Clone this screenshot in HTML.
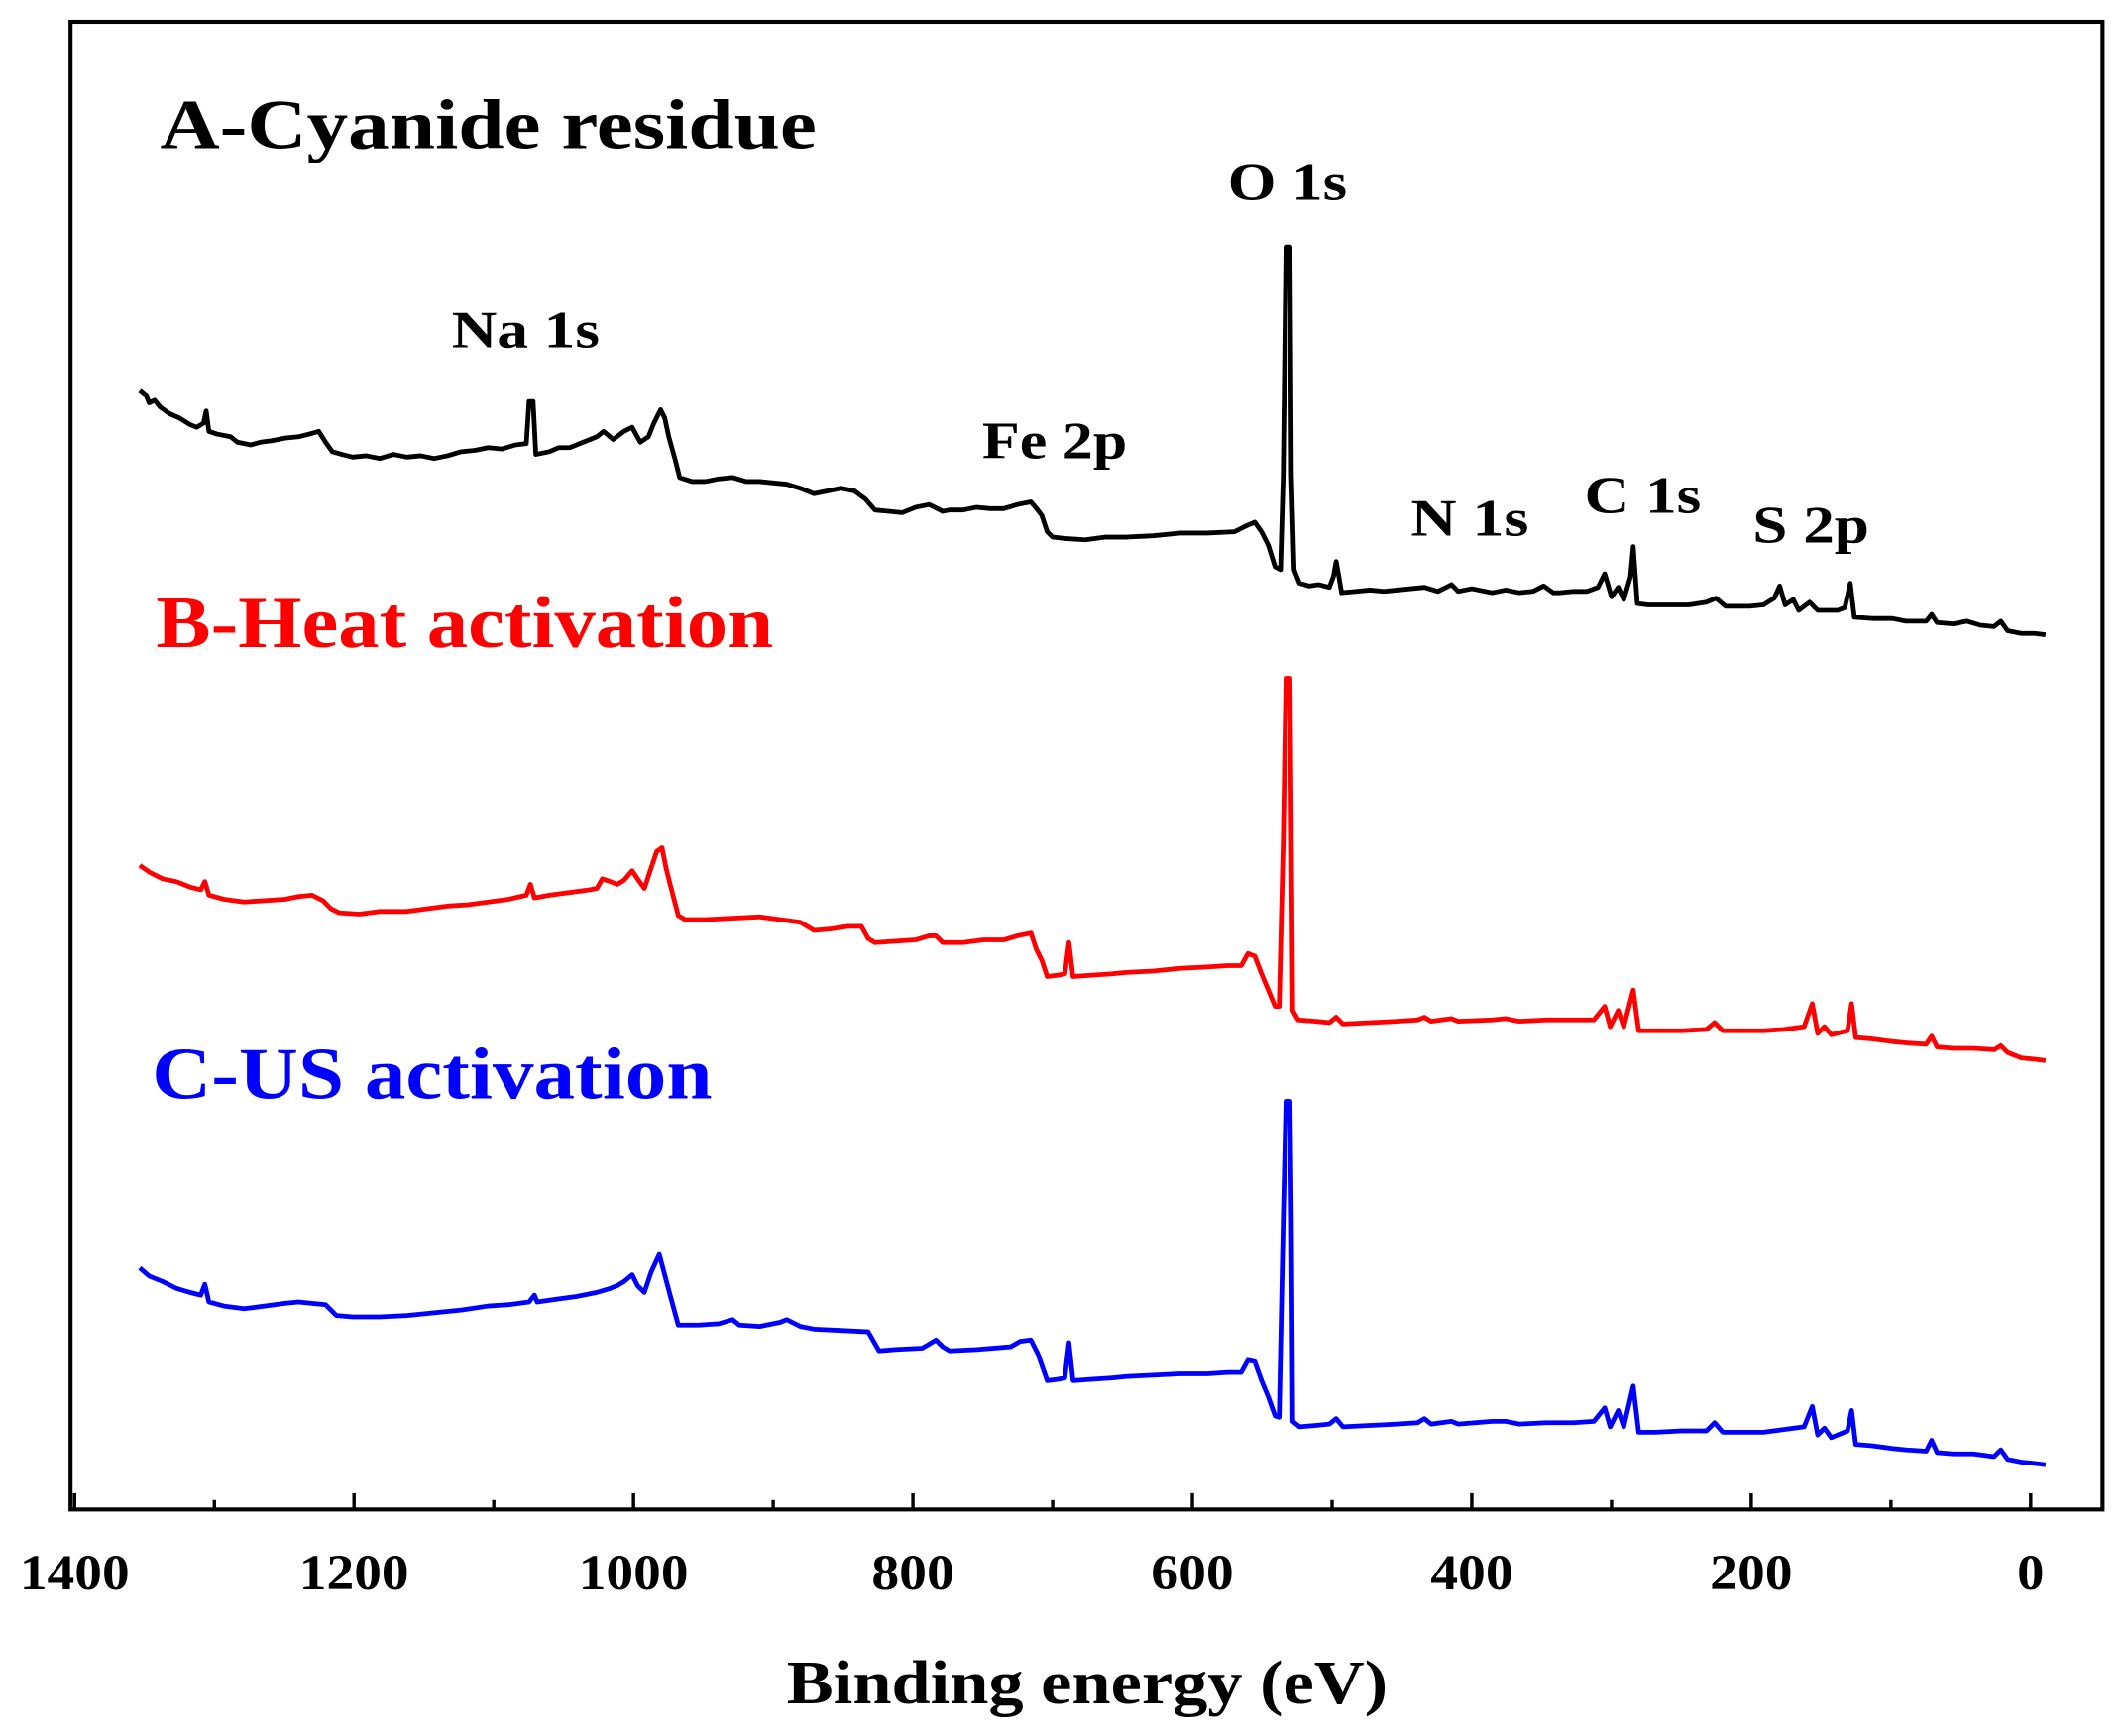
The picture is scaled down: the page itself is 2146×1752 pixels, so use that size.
<!DOCTYPE html>
<html><head><meta charset="utf-8"><style>html,body{margin:0;padding:0;background:#fff}svg{display:block}</style></head>
<body>
<svg width="2146" height="1752" viewBox="0 0 1568 1280" xmlns="http://www.w3.org/2000/svg" font-family="'Liberation Serif',serif" font-weight="bold">
<rect x="0" y="0" width="1568" height="1280" fill="#fff"/>
<rect x="52" y="16" width="1498" height="1097" fill="none" stroke="#000" stroke-width="3"/>
<g stroke="#000" stroke-width="2.5">
<line x1="55" y1="1113" x2="55" y2="1101"/><line x1="261" y1="1113" x2="261" y2="1101"/><line x1="467" y1="1113" x2="467" y2="1101"/><line x1="673" y1="1113" x2="673" y2="1101"/><line x1="879" y1="1113" x2="879" y2="1101"/><line x1="1085" y1="1113" x2="1085" y2="1101"/><line x1="1291" y1="1113" x2="1291" y2="1101"/><line x1="1497" y1="1113" x2="1497" y2="1101"/>
<line x1="158" y1="1113" x2="158" y2="1106"/><line x1="364" y1="1113" x2="364" y2="1106"/><line x1="570" y1="1113" x2="570" y2="1106"/><line x1="776" y1="1113" x2="776" y2="1106"/><line x1="982" y1="1113" x2="982" y2="1106"/><line x1="1188" y1="1113" x2="1188" y2="1106"/><line x1="1394" y1="1113" x2="1394" y2="1106"/>
</g>
<g font-size="37" text-anchor="middle" fill="#000" lengthAdjust="spacingAndGlyphs">
<text x="55" y="1172" textLength="81" lengthAdjust="spacingAndGlyphs">1400</text><text x="261" y="1172" textLength="81" lengthAdjust="spacingAndGlyphs">1200</text><text x="467" y="1172" textLength="81" lengthAdjust="spacingAndGlyphs">1000</text><text x="673" y="1172" textLength="61" lengthAdjust="spacingAndGlyphs">800</text><text x="879" y="1172" textLength="61" lengthAdjust="spacingAndGlyphs">600</text><text x="1085" y="1172" textLength="61" lengthAdjust="spacingAndGlyphs">400</text><text x="1291" y="1172" textLength="61" lengthAdjust="spacingAndGlyphs">200</text><text x="1497" y="1172" textLength="20" lengthAdjust="spacingAndGlyphs">0</text>
</g>
<text x="580" y="1256" font-size="46" textLength="443" lengthAdjust="spacingAndGlyphs">Binding energy (eV)</text>
<g fill="none" stroke-width="3.5" stroke-linejoin="round">
<polyline stroke="#000" points="103,288 108,292 110,297 114,295 118,300 125,305 132,308 140,313 145,315 150,312 152,303 154,318 160,320 170,322 175,326 185,328 192,326 200,325 210,323 220,322 228,320 235,318 240,326 245,333 252,335 260,337 270,336 280,338 290,335 300,337 310,336 320,338 330,336 340,333 350,332 360,330 370,331 380,328 388,327 390,296 393,296 395,335 405,333 412,330 420,330 430,326 440,322 445,318 452,324 460,318 466,315 472,326 478,322 482,312 487,302 490,308 493,322 498,340 501,352 510,355 520,355 530,353 540,352 550,355 560,355 570,356 580,357 590,360 600,364 610,362 620,360 630,362 638,368 645,376 655,377 665,378 675,374 685,372 695,377 700,376 710,376 720,374 730,375 740,375 750,372 760,370 765,376 768,380 772,392 776,396 785,397 800,398 815,396 830,396 850,395 870,393 890,393 910,392 918,388 925,385 930,392 935,402 940,418 944,420 946,350 948,182 951,182 952,350 954,420 958,430 965,432 972,431 980,433 983,425 985,414 987,425 989,437 1000,436 1010,435 1020,436 1030,435 1040,434 1050,433 1060,436 1070,431 1075,436 1085,434 1095,436 1100,437 1110,435 1120,437 1130,436 1138,432 1145,437 1150,437 1160,436 1170,436 1178,433 1183,423 1188,440 1193,433 1197,442 1202,425 1204,403 1207,445 1215,446 1230,446 1245,446 1258,444 1265,441 1272,447 1290,447 1300,446 1308,441 1312,432 1316,446 1322,442 1326,450 1334,444 1340,450 1355,450 1360,448 1364,430 1367,455 1380,456 1395,456 1405,458 1420,458 1424,453 1428,459 1440,460 1450,458 1460,461 1470,462 1475,458 1480,465 1490,467 1500,467 1508,468"/>
<polyline stroke="#f00" points="103,638 110,643 120,648 130,650 140,654 148,656 151,650 154,660 165,663 180,665 195,664 210,663 220,661 230,660 238,664 244,670 250,673 265,674 280,672 300,672 315,670 330,668 345,667 360,665 375,663 388,660 391,652 394,662 405,660 420,658 435,656 440,655 444,648 450,650 455,652 460,649 466,642 470,648 475,655 480,640 484,628 488,625 491,640 494,652 500,675 505,678 520,678 540,677 560,676 575,678 590,680 600,686 612,685 625,683 635,683 640,692 645,695 660,694 675,693 685,690 690,690 695,695 710,695 725,693 740,693 750,690 760,688 764,700 768,708 772,720 780,719 785,718 788,695 791,720 805,719 820,718 830,717 850,716 870,714 890,713 905,712 915,712 920,703 925,705 930,718 935,730 940,742 943,742 946,620 948,500 951,500 952,620 953,745 957,752 970,753 980,754 985,750 990,755 1010,754 1030,753 1045,752 1050,750 1055,753 1070,751 1075,753 1100,752 1110,751 1120,753 1140,752 1160,752 1175,752 1183,742 1187,757 1193,745 1197,757 1204,730 1208,760 1220,760 1240,760 1258,759 1264,754 1270,760 1290,760 1300,760 1315,759 1330,757 1336,740 1340,762 1345,757 1350,763 1362,760 1365,740 1368,765 1380,766 1395,768 1405,769 1420,770 1424,764 1428,772 1440,773 1455,773 1470,774 1475,771 1480,776 1490,780 1500,781 1508,782"/>
<polyline stroke="#00f" points="103,935 110,941 120,945 130,950 140,953 148,955 151,947 154,960 165,963 180,965 195,963 210,961 220,960 230,961 240,962 248,970 260,971 280,971 300,970 320,968 340,966 360,963 375,962 390,960 394,955 396,960 410,958 425,956 440,953 450,950 455,948 460,945 466,940 470,948 475,953 480,938 486,925 490,940 494,955 500,977 515,977 530,976 540,973 545,977 560,978 575,975 580,973 590,978 600,980 620,981 640,982 648,996 660,995 680,994 690,988 695,993 700,996 720,995 745,993 752,989 760,988 765,998 772,1018 780,1017 785,1016 788,990 791,1018 805,1017 820,1016 830,1015 850,1014 870,1013 890,1013 905,1012 915,1012 920,1003 925,1004 930,1018 935,1030 940,1044 943,1045 946,900 948,812 951,812 952,900 953,1048 958,1052 970,1051 980,1050 985,1046 990,1052 1010,1051 1030,1050 1045,1049 1050,1046 1055,1050 1070,1048 1075,1050 1100,1048 1110,1048 1120,1050 1140,1049 1160,1049 1175,1048 1183,1038 1187,1052 1193,1040 1197,1052 1204,1022 1208,1056 1220,1056 1240,1055 1258,1055 1264,1049 1270,1056 1290,1056 1300,1056 1315,1054 1330,1052 1336,1037 1340,1058 1345,1053 1350,1060 1362,1055 1365,1040 1368,1065 1380,1066 1395,1068 1405,1069 1420,1070 1424,1062 1428,1071 1440,1072 1455,1072 1470,1074 1475,1069 1480,1076 1490,1078 1500,1079 1508,1080"/>
</g>
<text x="118" y="109" font-size="52" fill="#000" textLength="484" lengthAdjust="spacingAndGlyphs">A-Cyanide residue</text>
<text x="115" y="477" font-size="54" fill="#f00" textLength="455" lengthAdjust="spacingAndGlyphs">B-Heat activation</text>
<text x="112" y="810" font-size="54" fill="#00f" textLength="413" lengthAdjust="spacingAndGlyphs">C-US activation</text>
<g font-size="39" fill="#000">
<text x="905" y="147" textLength="88" lengthAdjust="spacingAndGlyphs">O 1s</text>
<text x="333" y="256" textLength="109" lengthAdjust="spacingAndGlyphs">Na 1s</text>
<text x="724" y="338" textLength="107" lengthAdjust="spacingAndGlyphs">Fe 2p</text>
<text x="1040" y="395" textLength="87" lengthAdjust="spacingAndGlyphs">N 1s</text>
<text x="1168" y="378" textLength="86" lengthAdjust="spacingAndGlyphs">C 1s</text>
<text x="1292" y="400" textLength="86" lengthAdjust="spacingAndGlyphs">S 2p</text>
</g>
</svg>
</body></html>
